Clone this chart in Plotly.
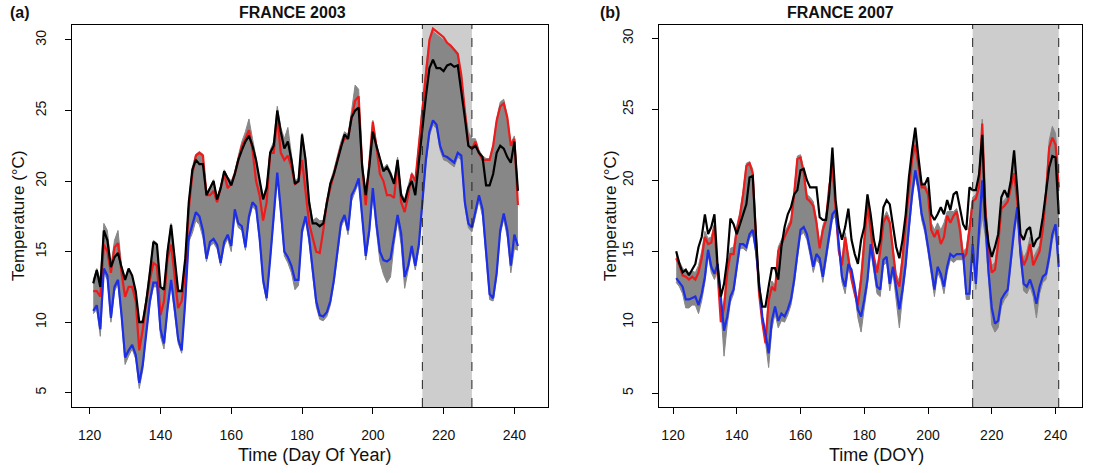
import plotly.graph_objects as go

DOY = list(range(121, 242))

# ---------------- FRANCE 2003 ----------------
a_black = [12.75, 13.7, 12.5, 16.5, 15.8, 13.9, 14.6, 14.9, 13.9, 13.0,
           13.8, 13.3, 12.2, 10.0, 10.0, 11.5, 13.5, 15.7, 15.5, 12.5,
           12.3, 15.0, 16.9, 14.5, 12.2, 12.2, 14.5, 18.5, 20.8, 21.5,
           21.2, 21.2, 19.0, 19.5, 20.0, 18.7, 19.5, 20.7, 20.2, 19.7,
           20.5, 21.5, 22.2, 22.8, 23.2, 22.5, 21.5, 20.0, 18.7, 19.5,
           22.0, 22.5, 25.0, 23.5, 22.3, 22.8, 21.5, 19.8, 20.0, 23.3,
           21.5, 18.5, 17.0, 17.0, 16.8, 17.0, 18.5, 19.8, 20.5, 21.5,
           22.5, 23.3, 23.0, 24.5, 25.0, 25.2, 21.0, 19.0, 21.0, 23.5,
           22.5, 21.5, 20.7, 21.0, 20.5, 19.8, 21.5, 19.0, 18.5, 19.5,
           20.0, 19.0, 21.5, 23.5, 26.0, 28.0, 28.6, 28.0, 28.0, 27.8,
           28.2, 28.3, 28.1, 28.2, 26.5, 24.5, 22.5, 22.3, 22.5, 22.0,
           21.7, 19.7, 19.7, 20.5, 22.0, 22.5, 22.3, 21.7, 21.3, 22.8,
           19.3]
a_red = [12.2, 12.2, 11.8, 15.5, 15.0, 13.5, 15.3, 15.6, 13.5, 11.8,
         12.5, 12.5, 11.5, 8.0, 9.5, 11.5, 13.0, 14.2, 14.0, 10.5,
         11.5, 14.5, 15.5, 13.0, 11.0, 11.5, 13.5, 18.0, 20.5, 21.8,
         22.0, 21.8, 19.0, 19.0, 19.3, 18.5, 19.5, 20.5, 19.5, 19.8,
         20.5, 21.5, 22.5, 23.0, 23.6, 22.2, 20.0, 19.0, 17.2, 18.5,
         22.0, 22.0, 24.5, 22.0, 21.5, 21.8, 21.0, 19.8, 20.0, 21.5,
         19.0, 17.0, 16.0, 15.0, 14.9, 16.5, 18.5, 19.5, 20.5, 21.5,
         22.5, 23.0, 23.0, 24.5, 25.7, 26.0, 21.0, 18.3, 21.0, 24.2,
         22.5, 20.5, 20.0, 19.0, 19.0, 18.8, 21.3, 18.5, 17.8, 19.0,
         20.5, 20.0, 22.5, 25.0, 28.0, 30.0, 30.8, 30.6, 30.4, 30.2,
         29.8, 29.6, 29.3, 29.0, 27.5, 25.0, 22.5, 22.3, 22.8, 22.0,
         21.5, 21.5, 21.5, 22.5, 24.3, 25.3, 25.5, 24.5, 22.5, 23.0,
         18.3]
a_blue = [10.8, 11.2, 9.5, 13.8, 13.3, 10.3, 12.5, 13.0, 10.5, 7.5,
          8.0, 8.4, 7.7, 5.7, 7.0, 9.5, 11.5, 12.8, 12.8, 9.5,
          8.5, 11.0, 13.0, 11.0, 8.8, 8.0, 11.5, 16.0, 17.0, 17.8,
          17.5, 16.5, 14.5, 15.7, 15.9, 15.5, 14.2, 15.7, 16.2, 15.4,
          18.0, 17.0, 16.8, 15.3, 17.5, 18.5, 18.2, 16.0, 13.0, 11.7,
          14.5, 17.5, 20.6, 18.0, 15.0, 14.6, 14.0, 13.0, 13.0, 16.5,
          17.5, 16.0, 13.5, 11.5, 10.5, 10.4, 10.7, 11.5, 13.0, 15.0,
          17.0, 17.6, 16.5, 19.0, 19.5, 20.2, 17.5, 14.7, 16.5, 19.5,
          17.0, 15.0, 14.4, 14.3, 14.5, 16.0, 17.6, 16.3, 13.2, 14.0,
          15.4, 14.0, 15.5, 18.5, 21.5, 23.5, 24.3, 24.0, 22.5, 21.8,
          21.7, 21.5, 21.3, 22.0, 21.8, 18.5, 17.0, 16.7, 17.8, 19.0,
          18.0, 15.0, 12.0, 11.7, 13.5, 16.5, 17.7, 16.5, 14.0, 16.2,
          15.4]
a_ens_hi = [13.0, 13.8, 13.0, 17.0, 16.5, 14.0, 15.8, 16.5, 14.0, 13.2,
            13.8, 13.3, 12.2, 10.0, 10.2, 11.8, 13.8, 15.8, 15.6, 12.5,
            12.4, 15.2, 17.0, 14.6, 12.3, 12.3, 14.6, 18.6, 21.0, 21.9,
            22.1, 21.9, 19.2, 19.6, 20.1, 18.8, 19.6, 20.8, 20.3, 20.0,
            20.7, 21.8, 22.8, 23.5, 24.4, 23.0, 21.7, 20.1, 18.9, 19.7,
            22.2, 22.8, 25.3, 23.8, 23.0, 23.8, 21.8, 20.0, 20.2, 23.4,
            21.7, 18.7, 17.2, 17.4, 17.2, 17.2, 18.7, 20.0, 20.8, 21.8,
            22.8, 23.5, 23.3, 25.0, 26.8, 26.5, 21.3, 19.2, 21.2, 24.3,
            22.7, 21.7, 20.9, 21.2, 20.7, 20.0, 21.7, 19.2, 18.7, 19.7,
            20.6, 20.1, 22.6, 25.1, 28.1, 30.0, 30.6, 30.4, 30.2, 30.0,
            29.8, 29.6, 29.4, 29.1, 27.6, 25.1, 23.5, 23.0, 23.0, 22.2,
            21.8, 21.6, 21.6, 22.6, 24.4, 25.6, 25.8, 24.6, 22.7, 23.2,
            19.4]
a_ens_lo = [10.6, 10.9, 9.0, 13.5, 13.0, 10.0, 12.2, 12.7, 10.2, 7.0,
            7.6, 8.1, 7.4, 5.3, 6.6, 9.2, 11.2, 12.5, 12.5, 9.0,
            8.1, 10.7, 12.7, 10.7, 8.5, 7.8, 11.2, 15.7, 16.3, 17.2,
            16.9, 16.0, 14.3, 15.4, 15.6, 15.2, 14.0, 15.4, 15.9, 15.0,
            17.6, 16.7, 16.5, 15.1, 17.2, 18.2, 17.9, 15.7, 12.7, 11.5,
            14.2, 17.2, 20.3, 17.6, 14.7, 14.2, 13.5, 12.3, 12.6, 16.2,
            17.2, 15.6, 13.1, 11.1, 10.2, 10.1, 10.4, 11.2, 12.7, 14.6,
            16.7, 17.3, 16.2, 18.6, 19.2, 19.9, 17.2, 14.4, 16.2, 19.0,
            16.5, 14.3, 13.4, 12.8, 13.2, 15.5, 17.2, 15.5, 12.4, 13.6,
            15.0, 13.7, 15.2, 18.2, 21.2, 23.2, 24.0, 23.7, 22.2, 21.5,
            21.4, 21.2, 21.0, 21.7, 21.5, 18.2, 16.7, 16.4, 17.5, 18.6,
            17.5, 14.5, 11.6, 11.5, 13.2, 16.2, 17.3, 16.0, 13.5, 15.2,
            15.1]

# ---------------- FRANCE 2007 ----------------
b_black = [15.0, 14.1, 13.5, 13.7, 13.3, 13.7, 14.1, 15.3, 16.0, 17.6,
           16.2, 16.7, 17.6, 13.9, 11.8, 12.7, 14.4, 17.3, 16.9, 16.2,
           16.9, 17.6, 18.3, 20.2, 20.3, 16.2, 12.5, 11.1, 11.1, 12.5,
           13.8, 13.8, 13.0, 15.3, 16.7, 17.6, 18.1, 19.0, 19.3, 20.7,
           20.8, 20.0, 19.5, 19.5, 19.5, 17.4, 17.2, 17.2, 19.0, 22.3,
           18.6, 16.7, 15.8, 16.7, 18.0, 15.8, 14.8, 14.1, 15.8, 16.7,
           19.0, 17.6, 15.8, 14.8, 15.8, 18.1, 18.6, 18.3, 16.7, 15.3,
           14.5, 15.8, 17.6, 20.2, 22.1, 23.7, 21.6, 19.7, 19.7, 20.2,
           17.6, 17.2, 17.6, 18.1, 17.6, 18.6, 17.9, 19.0, 19.2, 18.1,
           16.9, 16.5, 19.5, 19.3, 19.3, 20.4, 23.2, 17.4, 15.5, 14.6,
           15.3, 16.2, 18.8, 19.3, 18.8, 20.0, 22.1, 19.3, 16.2, 15.8,
           16.5, 16.7, 15.3, 15.8, 16.0, 17.4, 19.0, 20.9, 21.7, 21.6,
           17.6]
b_red = [14.5, 14.0, 13.3, 13.2, 13.0, 13.2, 13.0, 13.5, 14.5, 16.0,
         15.5, 15.6, 16.8, 13.0, 10.0, 11.0, 13.5, 14.8, 14.8, 16.5,
         17.5, 19.0, 21.0, 21.2, 20.5, 16.0, 12.0, 10.0, 8.5, 11.5,
         12.5, 12.2, 15.0, 15.5, 16.0, 16.5, 17.0, 19.0, 21.5, 21.6,
         20.5, 18.7, 18.5, 18.2, 17.0, 15.2, 16.5, 17.2, 19.5, 21.0,
         18.0, 15.0, 14.0, 16.0, 14.5, 13.0, 12.0, 11.2, 13.0, 16.0,
         18.3, 16.5, 14.5, 13.5, 15.0, 17.0, 17.5, 17.0, 15.0, 13.0,
         12.5, 14.5, 17.0, 19.5, 21.5, 22.5, 21.0, 19.5, 19.5, 19.0,
         16.5, 16.0, 16.5, 15.5, 16.0, 17.5, 17.0, 17.5, 17.8, 16.5,
         14.5, 14.8, 16.5, 18.5, 18.7, 19.5, 24.0, 18.0, 15.0, 13.5,
         13.7, 15.5, 18.0, 18.2, 18.5, 19.5, 20.5, 18.5, 15.0, 14.0,
         14.5, 15.5, 14.0, 14.5, 15.0, 16.5, 19.0, 22.3, 23.0, 22.5,
         19.5]
b_blue = [13.1, 12.8, 12.5, 11.6, 11.6, 11.7, 11.8, 11.2, 12.0, 13.2,
          15.1, 13.9, 13.4, 14.1, 11.6, 9.4, 10.4, 11.8, 12.3, 14.1,
          15.5, 15.5, 15.3, 16.2, 16.5, 15.1, 12.5, 10.4, 9.2, 7.8,
          10.1, 11.1, 10.1, 10.6, 10.4, 10.9, 11.6, 13.0, 14.8, 16.5,
          16.7, 16.2, 15.1, 13.9, 14.8, 14.5, 13.2, 14.6, 16.2, 17.6,
          17.9, 15.8, 13.2, 12.5, 14.1, 13.7, 12.5, 10.9, 10.4, 11.6,
          13.0, 15.5, 13.9, 12.5, 12.3, 14.4, 14.6, 12.7, 13.9, 12.3,
          10.9, 12.3, 14.1, 16.7, 19.0, 20.7, 19.5, 17.6, 16.7, 15.3,
          13.7, 12.3, 13.9, 13.4, 12.5, 13.9, 14.8, 14.6, 14.8, 14.8,
          14.8, 12.0, 12.0, 15.5, 12.7, 16.5, 20.0, 17.0, 13.5, 11.0,
          9.9, 10.1, 11.6, 12.0, 12.3, 14.4, 16.5, 18.1, 14.8, 12.7,
          12.5, 13.0, 12.3, 11.3, 12.5, 13.2, 13.4, 14.6, 16.2, 16.9,
          13.9]
b_ens_hi = [14.8, 14.3, 13.8, 13.6, 13.5, 13.6, 13.5, 14.0, 15.0, 16.4,
            15.9, 16.0, 17.0, 13.4, 10.5, 11.5, 13.8, 15.2, 15.3, 16.8,
            17.8, 19.3, 21.2, 21.3, 20.8, 16.5, 12.5, 10.5, 9.0, 11.9,
            12.9, 12.6, 15.3, 15.8, 16.3, 16.8, 17.3, 19.3, 21.7, 21.8,
            20.8, 19.0, 18.8, 18.5, 17.3, 15.5, 16.8, 17.5, 19.7, 21.2,
            18.3, 15.3, 14.4, 16.3, 14.8, 13.4, 12.4, 11.6, 13.4, 16.3,
            19.0, 16.8, 14.8, 13.8, 15.3, 17.3, 17.8, 17.3, 15.3, 13.4,
            12.9, 14.8, 17.3, 19.8, 22.2, 23.5, 21.3, 19.8, 19.8, 19.3,
            17.0, 16.5, 17.0, 16.5, 17.0, 17.8, 17.8, 17.8, 18.0, 17.0,
            15.0, 15.2, 17.0, 18.8, 19.0, 20.0, 24.3, 18.5, 15.4, 14.0,
            14.2, 16.0, 18.4, 18.6, 18.9, 19.9, 21.8, 18.9, 15.5, 14.5,
            15.0, 16.0, 14.5, 15.0, 15.4, 17.0, 19.4, 22.8, 23.8, 23.3,
            20.5]
b_ens_lo = [12.8, 12.5, 12.0, 11.0, 11.0, 11.2, 11.2, 10.6, 11.5, 12.8,
            14.7, 13.5, 13.0, 13.7, 11.0, 7.6, 9.8, 11.4, 12.0, 13.8,
            15.2, 15.2, 15.0, 15.9, 16.2, 14.8, 12.1, 9.9, 8.6, 6.8,
            9.5, 10.6, 9.6, 10.1, 10.0, 10.5, 11.2, 12.6, 14.4, 16.1,
            16.3, 15.8, 14.7, 13.5, 14.4, 14.1, 12.8, 14.2, 15.8, 17.2,
            17.5, 15.4, 12.8, 12.0, 13.7, 13.3, 12.0, 10.3, 9.3, 11.0,
            12.6, 15.1, 13.5, 12.0, 11.8, 14.0, 14.2, 12.2, 13.5, 11.7,
            9.6, 11.8, 13.7, 16.3, 18.6, 20.3, 19.1, 17.2, 16.3, 14.9,
            13.2, 11.8, 13.5, 13.0, 12.0, 13.5, 14.4, 14.2, 14.4, 14.4,
            14.4, 11.6, 11.6, 15.2, 12.3, 15.5, 17.5, 16.0, 12.5, 9.8,
            9.3, 9.6, 11.1, 11.6, 11.9, 14.0, 16.1, 17.7, 14.4, 12.2,
            12.0, 12.5, 11.8, 10.3, 12.0, 12.8, 13.0, 14.2, 15.8, 16.5,
            13.5]

PERIOD_A = [214, 228]
PERIOD_B = [214, 241]
X_TICKS = [120, 140, 160, 180, 200, 220, 240]
Y_TICKS = [5, 10, 15, 20, 25, 30]

W, H = 1096, 473
FONT = "Liberation Sans, Arial, Helvetica, sans-serif"
GRAY = "#878787"
RED = "#ec1c1c"
BLUE = "#1c2ee6"

fig = go.Figure()


def add_panel(xa, ya, lo, hi, red, blue, black):
    fig.add_trace(go.Scatter(x=DOY, y=lo, xaxis=xa, yaxis=ya, mode="lines",
                             line=dict(color=GRAY, width=1), showlegend=False,
                             hoverinfo="skip"))
    fig.add_trace(go.Scatter(x=DOY, y=hi, xaxis=xa, yaxis=ya, mode="lines",
                             line=dict(color=GRAY, width=1), fill="tonexty",
                             fillcolor=GRAY, showlegend=False, hoverinfo="skip"))
    for vals, col in ((red, RED), (blue, BLUE), (black, "#000000")):
        fig.add_trace(go.Scatter(x=DOY, y=vals, xaxis=xa, yaxis=ya, mode="lines",
                                 line=dict(color=col, width=2.2), showlegend=False))


add_panel("x", "y", a_ens_lo, a_ens_hi, a_red, a_blue, a_black)
add_panel("x2", "y2", b_ens_lo, b_ens_hi, b_red, b_blue, b_black)

for xr, yr, per in (("x", "y", PERIOD_A), ("x2", "y2", PERIOD_B)):
    fig.add_shape(type="rect", xref=xr, yref=yr + " domain", x0=per[0], x1=per[1],
                  y0=0, y1=1, fillcolor="#cdcdcd", line=dict(width=0), layer="below")
    for xv in per:
        fig.add_shape(type="line", xref=xr, yref=yr + " domain", x0=xv, x1=xv,
                      y0=0, y1=1, line=dict(color="#222222", width=1, dash="dash"))


def px_x(p):
    return p / W


def px_y(p):
    return 1 - p / H


ydom = [px_y(407), px_y(25)]
common_x = dict(tickvals=X_TICKS, ticks="outside", ticklen=6, tickwidth=1,
                tickcolor="black", showline=True, linecolor="black", linewidth=1,
                mirror=True, showgrid=False, zeroline=False,
                tickfont=dict(family=FONT, size=14, color="#111111"),
                ticklabelstandoff=9)
common_y = dict(tickvals=Y_TICKS, ticks="outside", ticklen=6, tickwidth=1,
                tickcolor="black", showline=True, linecolor="black", linewidth=1,
                mirror=True, showgrid=False, zeroline=False, tickangle=-90,
                tickfont=dict(family=FONT, size=14, color="#111111"),
                ticklabelstandoff=13)

fig.update_layout(
    width=W, height=H, margin=dict(l=0, r=0, t=0, b=0),
    paper_bgcolor="white", plot_bgcolor="white",
    xaxis=dict(domain=[px_x(72), px_x(548)], range=[115, 249.5], anchor="y", **common_x),
    yaxis=dict(domain=ydom, range=[3.99, 31.06], anchor="x", **common_y),
    xaxis2=dict(domain=[px_x(659), px_x(1082)], range=[115.6, 248.3], anchor="y2", **common_x),
    yaxis2=dict(domain=ydom, range=[4.02, 30.94], anchor="x2", **common_y),
)

ann = [
    ("(a)", 20, 13, 16, True, 0),
    ("FRANCE 2003", 292, 13, 16, True, 0),
    ("(b)", 610, 13, 16, True, 0),
    ("FRANCE 2007", 840, 13, 16, True, 0),
    ("Time (Day Of Year)", 314, 455, 18, False, 0),
    ("Time (DOY)", 876, 455, 18, False, 0),
    ("Temperature (°C)", 18, 216, 17, False, -90),
    ("Temperature (°C)", 610, 216, 17, False, -90),
]
for text, x, y, size, bold, ang in ann:
    fig.add_annotation(text=f"<b>{text}</b>" if bold else text, xref="paper", yref="paper",
                       x=px_x(x), y=px_y(y), xanchor="center", yanchor="middle",
                       showarrow=False, textangle=ang,
                       font=dict(family=FONT, size=size, color="#111111"))

fig.write_html("out.html")
